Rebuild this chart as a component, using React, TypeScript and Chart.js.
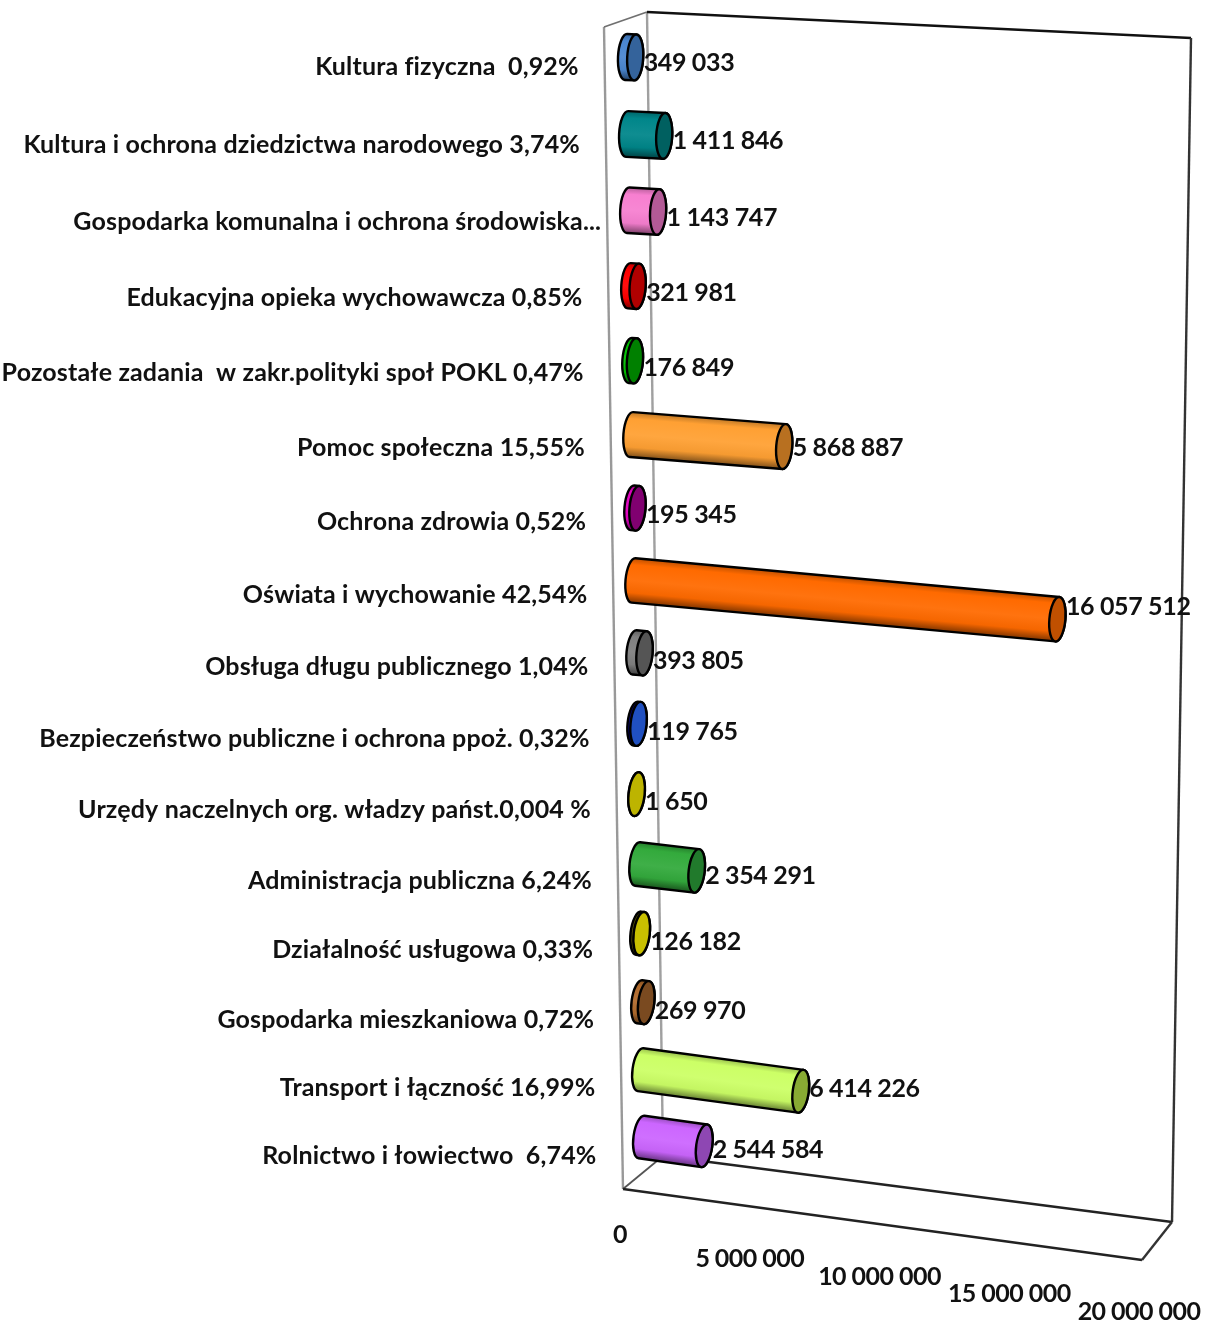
import React, { useEffect, useRef } from "react";
import { Chart, registerables } from "chart.js";

Chart.register(...registerables);

const CATEGORIES = [
  "Kultura fizyczna  0,92%",
  "Kultura i ochrona dziedzictwa narodowego 3,74%",
  "Gospodarka komunalna i ochrona środowiska...",
  "Edukacyjna opieka wychowawcza 0,85%",
  "Pozostałe zadania  w zakr.polityki społ POKL 0,47%",
  "Pomoc społeczna 15,55%",
  "Ochrona zdrowia 0,52%",
  "Oświata i wychowanie 42,54%",
  "Obsługa długu publicznego 1,04%",
  "Bezpieczeństwo publiczne i ochrona ppoż. 0,32%",
  "Urzędy naczelnych org. władzy państ.0,004 %",
  "Administracja publiczna 6,24%",
  "Działalność usługowa 0,33%",
  "Gospodarka mieszkaniowa 0,72%",
  "Transport i łączność 16,99%",
  "Rolnictwo i łowiectwo  6,74%",
];
const VALUES = [
  349033, 1411846, 1143747, 321981, 176849, 5868887, 195345, 16057512, 393805,
  119765, 1650, 2354291, 126182, 269970, 6414226, 2544584,
];
const BODY_COLORS = [
  "#4a86d0", "#00868a", "#f77fd0", "#ff0000", "#00c000", "#ffa033", "#e000c0", "#ff6a00",
  "#7f7f7f", "#000080", "#bdb400", "#33aa3c", "#5a5500", "#b06a2c", "#ccff66", "#cc66ff",
];
const CAP_COLORS = [
  "#34639b", "#006060", "#b35a96", "#b00000", "#008000", "#b87020", "#800070", "#c05000",
  "#555555", "#2050c0", "#bdb400", "#217a2c", "#c8c000", "#7a4a20", "#88aa33", "#8e47b3",
];
const AXIS_MAX = 20000000;
const AXIS_STEP = 5000000;

type P = { x: number; y: number };
// corners of the bar plane: first/last row at 0 and at axis max
const PLANE: P[] = [
  { x: 626, y: 57 },
  { x: 1178, y: 82 },
  { x: 1154, y: 1209 },
  { x: 641.5, y: 1137 },
];
const WALL_TL = { x: 604, y: 27 };
const WALL_BL = { x: 623, y: 1189 };
const BACK_TL = { x: 647, y: 12 };
const BACK_TR = { x: 1191, y: 38 };
const BACK_BR = { x: 1172, y: 1222 };
const BACK_BL = { x: 663, y: 1156 };
const FRONT_BR = { x: 1142, y: 1260 };

const FONT = 'bold 25px Lato, "Open Sans", sans-serif';
const INK = "#111111";

function makeHomography(q: P[]) {
  const [p0, p1, p2, p3] = q;
  const dx1 = p1.x - p2.x, dx2 = p3.x - p2.x, sx = p0.x - p1.x + p2.x - p3.x;
  const dy1 = p1.y - p2.y, dy2 = p3.y - p2.y, sy = p0.y - p1.y + p2.y - p3.y;
  const det = dx1 * dy2 - dx2 * dy1;
  const g = (sx * dy2 - dx2 * sy) / det;
  const h = (dx1 * sy - sx * dy1) / det;
  const a = p1.x - p0.x + g * p1.x, b = p3.x - p0.x + h * p3.x;
  const d = p1.y - p0.y + g * p1.y, e = p3.y - p0.y + h * p3.y;
  return (u: number, v: number): P => {
    const w = g * u + h * v + 1;
    return { x: (a * u + b * v + p0.x) / w, y: (d * u + e * v + p0.y) / w };
  };
}
const project = makeHomography(PLANE);

function shade(hex: string, k: number) {
  const n = parseInt(hex.slice(1), 16);
  const f = (c: number) => {
    const o = k <= 1 ? c * k : c + (255 - c) * (k - 1);
    return Math.round(Math.min(255, Math.max(0, o)));
  };
  return `rgb(${f((n >> 16) & 255)},${f((n >> 8) & 255)},${f(n & 255)})`;
}

const fmt = (v: number) => String(v).replace(/\B(?=(\d{3})+(?!\d))/g, " ");

function drawCylinder(ctx: CanvasRenderingContext2D, b: P, e: P, ry: number, rx: number, body: string, cap: string) {
  const th = Math.atan2(e.y - b.y, e.x - b.x) || 0;
  const angle = Math.max(th, 0.05);
  const nx = -Math.sin(angle), ny = Math.cos(angle);
  ctx.save();
  ctx.lineWidth = 2.4;
  ctx.strokeStyle = "#000";
  const grad = ctx.createLinearGradient(b.x - nx * ry, b.y - ny * ry, b.x + nx * ry, b.y + ny * ry);
  grad.addColorStop(0, shade(body, 0.75));
  grad.addColorStop(0.15, shade(body, 1));
  grad.addColorStop(0.5, shade(body, 1.06));
  grad.addColorStop(0.78, shade(body, 0.96));
  grad.addColorStop(1, shade(body, 0.5));
  ctx.beginPath();
  ctx.ellipse(b.x, b.y, rx, ry, angle, -Math.PI / 2, Math.PI / 2, true);
  ctx.lineTo(e.x + nx * ry, e.y + ny * ry);
  ctx.ellipse(e.x, e.y, rx, ry, angle, Math.PI / 2, -Math.PI / 2, true);
  ctx.closePath();
  ctx.fillStyle = grad;
  ctx.fill();
  ctx.stroke();
  ctx.beginPath();
  ctx.ellipse(e.x, e.y, rx, ry, angle, 0, Math.PI * 2);
  ctx.fillStyle = cap;
  ctx.fill();
  ctx.stroke();
  ctx.restore();
}

function line(ctx: CanvasRenderingContext2D, a: P, b: P, color: string, w: number) {
  ctx.beginPath();
  ctx.moveTo(a.x, a.y);
  ctx.lineTo(b.x, b.y);
  ctx.strokeStyle = color;
  ctx.lineWidth = w;
  ctx.stroke();
}

const perspectivePlugin = {
  id: "perspective",
  beforeDatasetsDraw(chart: any) {
    const ctx = chart.ctx as CanvasRenderingContext2D;
    ctx.save();
    line(ctx, WALL_TL, WALL_BL, "#999999", 2.4);
    line(ctx, BACK_TL, BACK_BL, "#a0a0a0", 2.4);
    line(ctx, WALL_TL, BACK_TL, "#707070", 1.8);
    line(ctx, BACK_TL, BACK_TR, "#111", 2.4);
    line(ctx, BACK_TR, BACK_BR, "#333", 2.4);
    line(ctx, BACK_BL, BACK_BR, "#222", 2.4);
    line(ctx, WALL_BL, BACK_BL, "#555", 1.8);
    line(ctx, WALL_BL, FRONT_BR, "#222", 2.4);
    line(ctx, FRONT_BR, BACK_BR, "#333", 2.4);
    ctx.restore();
  },
  beforeDatasetDraw(chart: any, args: any) {
    const ctx = chart.ctx as CanvasRenderingContext2D;
    const xs = chart.scales.x, ys = chart.scales.y;
    const ds = chart.data.datasets[args.index];
    const meta = chart.getDatasetMeta(args.index);
    const n = ys.getLabels().length;
    const y0 = ys.getPixelForValue(0), y1 = ys.getPixelForValue(n - 1);
    const toU = (px: number) => (px - xs.left) / xs.width;
    const toV = (py: number) => (py - y0) / (y1 - y0);
    meta.data.forEach((el: any, i: number) => {
      const v = toV(el.y);
      const b = project(toU(el.base), v);
      const e = project(toU(el.x), v);
      drawCylinder(ctx, b, e, 23 - 1.5 * v, 8, ds.backgroundColor[i], ds.borderColor[i]);
    });
    return false;
  },
  afterDatasetsDraw(chart: any) {
    const ctx = chart.ctx as CanvasRenderingContext2D;
    const xs = chart.scales.x, ys = chart.scales.y;
    const meta = chart.getDatasetMeta(0);
    const labels: string[] = ys.getLabels();
    const n = labels.length;
    const y0 = ys.getPixelForValue(0), y1 = ys.getPixelForValue(n - 1);
    const toU = (px: number) => (px - xs.left) / xs.width;
    const toV = (py: number) => (py - y0) / (y1 - y0);
    ctx.save();
    ctx.font = FONT;
    ctx.fillStyle = INK;
    ctx.textBaseline = "middle";
    meta.data.forEach((el: any, i: number) => {
      const v = toV(el.y);
      const b = project(toU(el.base), v);
      const e = project(toU(el.x), v);
      // category label, right-aligned against the side wall
      const ly = b.y + 10 + 9 * v;
      const wallX = WALL_TL.x + ((ly - WALL_TL.y) / (WALL_BL.y - WALL_TL.y)) * (WALL_BL.x - WALL_TL.x);
      (ctx as any).letterSpacing = "0.15px";
      ctx.textAlign = "right";
      ctx.fillText(labels[i], wallX - 26 + (labels[i].endsWith("...") ? 20 : 0), ly);
      // value label, past the end cap
      (ctx as any).letterSpacing = "-0.35px";
      ctx.textAlign = "left";
      ctx.fillText(fmt(chart.data.datasets[0].data[i]), e.x + 8.5, (b.y + e.y) / 2 + 6 + 3 * v);
    });
    (ctx as any).letterSpacing = "-0.55px";
    ctx.textAlign = "center";
    xs.ticks.forEach((t: any) => {
      const u = toU(xs.getPixelForValue(t.value));
      const fx = WALL_BL.x + u * (FRONT_BR.x - WALL_BL.x);
      const fy = WALL_BL.y + u * (FRONT_BR.y - WALL_BL.y);
      ctx.fillText(t.label, fx - 3, fy + (t.value === 0 ? 46 : 52));
    });
    ctx.restore();
  },
};

export default function App() {
  const ref = useRef<HTMLCanvasElement>(null);
  useEffect(() => {
    const chart = new Chart(ref.current as HTMLCanvasElement, {
      type: "bar",
      data: {
        labels: CATEGORIES,
        datasets: [{ data: VALUES, backgroundColor: BODY_COLORS, borderColor: CAP_COLORS }],
      },
      options: {
        indexAxis: "y",
        animation: false,
        responsive: false,
        plugins: { legend: { display: false }, tooltip: { enabled: false }, title: { display: false } },
        layout: { padding: { left: 620, right: 20, top: 20, bottom: 120 } },
        scales: {
          x: {
            min: 0,
            max: AXIS_MAX,
            grid: { display: false },
            border: { display: false },
            ticks: { display: false, stepSize: AXIS_STEP, callback: (v: any) => fmt(Number(v)) },
          },
          y: {
            grid: { display: false },
            border: { display: false },
            ticks: { display: false },
          },
        },
      } as any,
      plugins: [perspectivePlugin as any],
    });
    return () => chart.destroy();
  }, []);
  return (
    <div style={{ position: "absolute", left: 0, top: 0, width: 1211, height: 1324, overflow: "hidden", background: "#fff" }}>
      <canvas ref={ref} width={1211} height={1324} style={{ display: "block", filter: "blur(0.7px)" }} />
    </div>
  );
}
